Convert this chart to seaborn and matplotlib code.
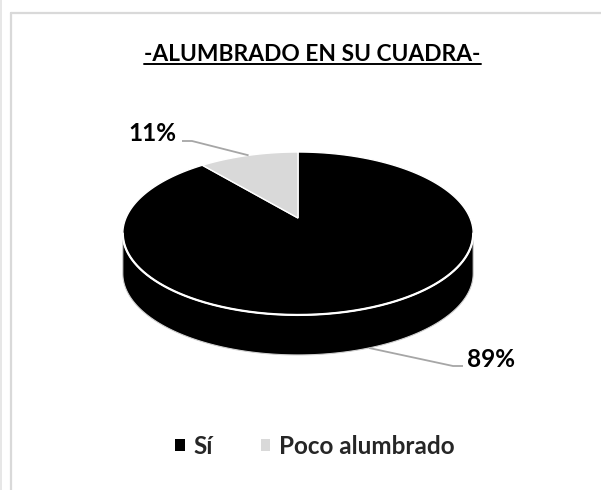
import numpy as np
import matplotlib
matplotlib.use("Agg")
import matplotlib.pyplot as plt
import seaborn as sns
from matplotlib.patches import Polygon, Rectangle
from matplotlib.lines import Line2D

# ---- data ----
categories = ["Sí", "Poco alumbrado"]
values = [89, 11]
pct_labels = ["89%", "11%"]
colors = ["#000000", "#d9d9d9"]
title = "-ALUMBRADO EN SU CUADRA-"

sns.set_theme(style="white")
plt.rcParams['font.family'] = ['Lato', 'DejaVu Sans']

W, H = 601, 490
fig = plt.figure(figsize=(W / 100, H / 100), dpi=100)
ax = fig.add_axes([0, 0, 1, 1])
ax.set_xlim(0, W)
ax.set_ylim(H, 0)
ax.axis('off')

# ---- chart frame ----
ax.add_line(Line2D([11, 11], [13, H], color="#d9d9d9", lw=1.6))
ax.add_line(Line2D([11, W], [13, 13], color="#d9d9d9", lw=1.6))
ax.add_line(Line2D([0.8, 0.8], [0, H], color="#e3e3e3", lw=1.2))

# ---- 3D pie geometry (perspective ellipse) ----
CX, RX = 298.0, 172.0
PA, PB, PC = 37.1, 218.0, -0.19
DEPTH = 40.0


def proj(theta_deg, drop=0.0):
    t = np.radians(theta_deg)
    u = np.sin(t)
    v = -np.cos(t)
    w = 1 + PC * v
    return CX + RX * u / w, (PA * v + PB) / w + drop


total = float(sum(values))
spans = np.array(values) / total * 360.0
starts = np.concatenate([[0.0], np.cumsum(spans)[:-1]])

vis_lo = np.degrees(np.arccos(PC))
vis_hi = 360.0 - vis_lo

# side walls
for s, sp, col in zip(starts, spans, colors):
    a0, a1 = max(s, vis_lo), min(s + sp, vis_hi)
    if a1 <= a0:
        continue
    th = np.linspace(a0, a1, 200)
    xt, yt = proj(th)
    xb, yb = proj(th[::-1], DEPTH)
    pts = np.column_stack([np.concatenate([xt, xb]), np.concatenate([yt, yb])])
    ax.add_patch(Polygon(pts, closed=True, facecolor=col, edgecolor="#d0d0d0", lw=0.8, zorder=2))

# top faces
for s, sp, col in zip(starts, spans, colors):
    th = np.linspace(s, s + sp, 300)
    x, y = proj(th)
    pts = np.column_stack([np.concatenate([[CX], x]), np.concatenate([[PB], y])])
    ax.add_patch(Polygon(pts, closed=True, facecolor=col, edgecolor="white", lw=1.0,
                         joinstyle="miter", zorder=3))

# white rim along front top edge
th = np.linspace(vis_lo, vis_hi, 300)
x, y = proj(th)
ax.plot(x, y, color="white", lw=1.6, zorder=4)

# ---- labels with leader lines ----
label_layout = {
    "11%": dict(elbow=(192, 141), end=(182, 141), text=(176, 141), ha="right"),
    "89%": dict(elbow=(453, 366), end=(463, 366), text=(467, 367), ha="left"),
}
for s, sp, lab in zip(starts, spans, pct_labels):
    mid = s + sp / 2
    drop = DEPTH if vis_lo <= mid <= vis_hi else 0.0
    ax_, ay_ = proj(mid, drop)
    lay = label_layout[lab]
    ax.plot([ax_, lay["elbow"][0], lay["end"][0]], [ay_, lay["elbow"][1], lay["end"][1]],
            color="#a6a6a6", lw=1.3, zorder=5, solid_capstyle="butt")
    ax.text(lay["text"][0], lay["text"][1], lab, ha=lay["ha"], va="baseline",
            fontsize=17.5, fontweight="bold", color="black", zorder=6)

# ---- title (underlined) ----
t = ax.text(312.5, 61, title, ha="center", va="baseline", fontsize=16.4,
            fontweight="bold", color="black")
fig.canvas.draw()
bb = t.get_window_extent().transformed(ax.transData.inverted())
ax.plot([bb.x0, bb.x1], [64.5, 64.5], color="black", lw=1.4)

# ---- legend ----
handles = [Rectangle((0, 0), 1, 1, facecolor=c, edgecolor="none") for c in colors]
ax.legend(handles, categories, loc="center", bbox_to_anchor=(315 / W, 1 - 446 / H),
          ncol=2, frameon=False, handlelength=0.38, handleheight=0.38,
          handletextpad=0.35, columnspacing=2.0,
          prop=dict(family=['Lato', 'DejaVu Sans'], weight="bold", size=17.5))

fig.savefig("out.png", dpi=100)
